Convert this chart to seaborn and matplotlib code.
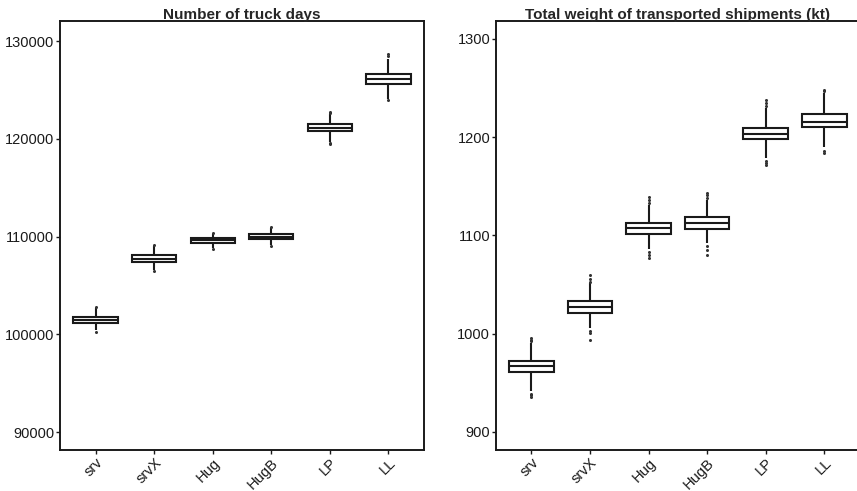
import pandas as pd
import matplotlib.pyplot as plt
import seaborn as sns

cats = ['srv', 'srvX', 'Hug', 'HugB', 'LP', 'LL']

# number of truck days: whisker low, Q1, median, Q3, whisker high
truck_lo = [100400, 106550, 108800, 109100, 119700, 124100]
truck_q1 = [101190, 107390, 109335, 109715, 120790, 125600]
truck_med = [101490, 107730, 109610, 109970, 121130, 126110]
truck_q3 = [101800, 108070, 109880, 110225, 121480, 126620]
truck_hi = [102650, 109000, 110300, 110900, 122500, 128200]
truck_out = [[100270, 102760], [106480, 109130], [108720, 110390],
             [109060, 111000], [119460, 119550, 122620, 122740],
             [123950, 128500, 128670]]

# total weight of transported shipments (kt)
weight_lo = [942, 1005.4, 1085.8, 1092.3, 1178.5, 1190.3]
weight_q1 = [960.9, 1021.3, 1101.4, 1106.8, 1197.9, 1210.1]
weight_med = [966.7, 1027.4, 1107.2, 1112.9, 1203.5, 1215.8]
weight_q3 = [972.4, 1033.5, 1113.1, 1119.0, 1209.1, 1223.3]
weight_hi = [990, 1051.2, 1130.9, 1136.0, 1229.4, 1244.7]
weight_out = [[935, 937, 939, 992, 994, 996],
              [993.5, 1000.6, 1003, 1053, 1056, 1059.7],
              [1077, 1080, 1083, 1133, 1136, 1139.4],
              [1080, 1085, 1089, 1138, 1141, 1143.2],
              [1171.7, 1174, 1176, 1232, 1235, 1237.9],
              [1183.6, 1186, 1247, 1248.1]]


def box_frame(lo, q1, med, q3, hi):
    rows = []
    for c, vals in zip(cats, zip(lo, q1, med, q3, hi)):
        for v in vals:
            rows.append((c, v))
    return pd.DataFrame(rows, columns=['scenario', 'value'])


def out_frame(out):
    rows = [(c, v) for c, vals in zip(cats, out) for v in vals]
    return pd.DataFrame(rows, columns=['scenario', 'value'])


sns.set_style('white')
plt.rcParams['font.family'] = ['Liberation Sans', 'DejaVu Sans']

fig = plt.figure(figsize=(8.57, 4.91), dpi=100)
ax1 = fig.add_axes([60 / 857, 1 - 450 / 491, 364 / 857, 429.3 / 491])
ax2 = fig.add_axes([495.7 / 857, 1 - 450 / 491, 364.3 / 857, 429.3 / 491])

panels = [
    (ax1, box_frame(truck_lo, truck_q1, truck_med, truck_q3, truck_hi),
     out_frame(truck_out), 'Number of truck days', (88160, 132080),
     [90000, 100000, 110000, 120000, 130000]),
    (ax2, box_frame(weight_lo, weight_q1, weight_med, weight_q3, weight_hi),
     out_frame(weight_out), 'Total weight of transported shipments (kt)',
     (881.5, 1318.6), [900, 1000, 1100, 1200, 1300]),
]

for ax, df, odf, title, ylim, yticks in panels:
    sns.boxplot(data=df, x='scenario', y='value', order=cats, whis=(0, 100),
                width=0.76, color='white', linecolor='#1a1a1a', linewidth=1.5,
                showcaps=False, fliersize=0, ax=ax)
    sns.stripplot(data=odf, x='scenario', y='value', order=cats, jitter=False,
                  color='#333333', size=2.2, ax=ax)
    ax.set_xlim(-0.61, 5.61)
    ax.set_ylim(*ylim)
    ax.set_yticks(yticks)
    ax.set_yticklabels([str(t) for t in yticks])
    ax.set_xlabel('')
    ax.set_ylabel('')
    ax.set_title(title, fontsize=11, fontweight='bold', pad=1)
    for s in ax.spines.values():
        s.set_visible(True)
        s.set_color('#1a1a1a')
        s.set_linewidth(1.4)
    ax.tick_params(axis='both', direction='out', length=3, width=1,
                   pad=1, labelsize=10.5, colors='#1a1a1a',
                   left=True, bottom=True)
    plt.setp(ax.get_xticklabels(), rotation=45, ha='right',
             rotation_mode='anchor')

fig.savefig('out.png', dpi=100)
